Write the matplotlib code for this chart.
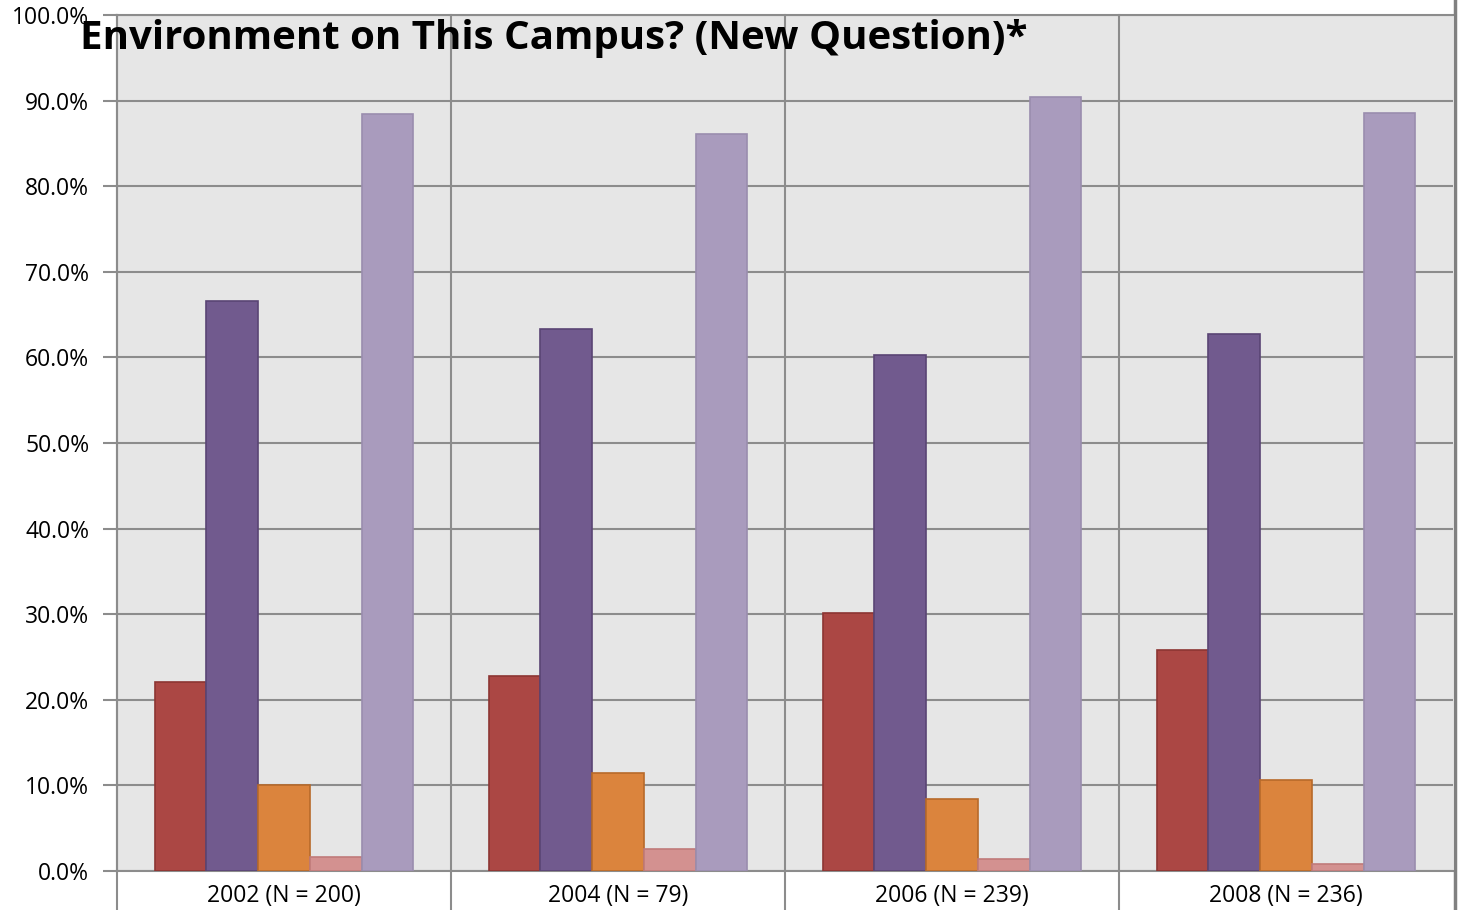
import matplotlib
matplotlib.use("Agg")
import matplotlib.pyplot as plt
import numpy as np
from matplotlib.lines import Line2D

categories = ["2002 (N = 200)", "2004 (N = 79)", "2006 (N = 239)", "2008 (N = 236)"]
series_a = [22.1, 22.8, 30.1, 25.8]
series_b = [66.6, 63.3, 60.3, 62.7]
series_c = [10.0, 11.4, 8.4, 10.6]
series_d = [1.6, 2.6, 1.4, 0.8]
series_e = [88.4, 86.1, 90.4, 88.6]
title = "Environment on This Campus? (New Question)*"

series = [series_a, series_b, series_c, series_d, series_e]
faces = ["#AB4744", "#715A8E", "#DB843D", "#D39190", "#A99BBD"]
edges = ["#8C3533", "#5A4574", "#B86A2A", "#C07B7A", "#9A8DAE"]

plt.rcParams['font.family'] = ['Open Sans', 'DejaVu Sans']

fig = plt.figure(figsize=(14.61, 9.10), dpi=100)
ax = fig.add_axes([117/1461, 1 - 871/910, (1453-117)/1461, (871-15)/910])
ax.set_facecolor("#E6E6E6")

x = np.arange(len(categories))
bw = 0.155
for i, (vals, fc, ec) in enumerate(zip(series, faces, edges)):
    ax.bar(x + (i - 2) * bw, vals, width=bw, color=fc, edgecolor=ec, linewidth=1.2, zorder=3)

ax.set_xlim(-0.5, len(categories) - 0.5)
ax.set_ylim(0, 100)
ax.set_yticks(np.arange(0, 101, 10))
ax.set_yticklabels([f"{v:.1f}%" for v in np.arange(0, 101, 10)], fontsize=16.5)
ax.set_xticks(x)
ax.set_xticklabels(categories, fontsize=16.5)
ax.tick_params(axis='x', length=0, pad=9)
ax.tick_params(axis='y', length=10, width=1.5, color="#8C8C8C", pad=10)

gc = "#8C8C8C"
ax.grid(axis='y', color=gc, linewidth=1.5, zorder=1)
ax.set_axisbelow(True)
for s in ax.spines.values():
    s.set_color(gc)
    s.set_linewidth(1.5)
ax.spines['right'].set_visible(False)

# vertical category separators extending into label area
for xv in [-0.5, 0.5, 1.5, 2.5]:
    ax.plot([xv, xv], [-0.05, 1.0], transform=ax.get_xaxis_transform(),
            color=gc, linewidth=1.5, clip_on=False, zorder=2)

# right border line spanning full height
fig.add_artist(Line2D([1455/1461, 1455/1461], [0, 1], color="#808080", linewidth=2.5))

fig.text(80/1461, 1 - 39/910, title, fontsize=29, fontweight='bold', va='center', ha='left', zorder=10)

fig.savefig("out.png", dpi=100, facecolor="white")
